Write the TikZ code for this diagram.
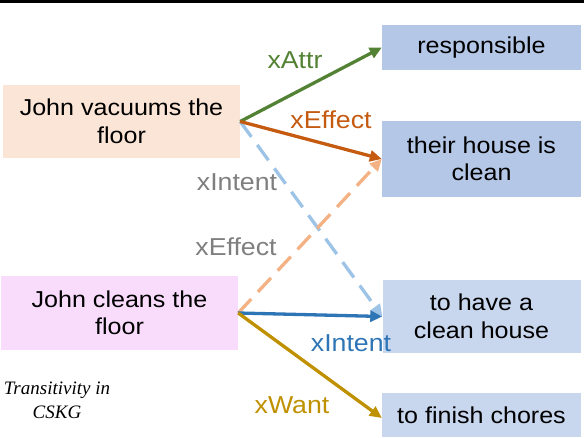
\documentclass[tikz,border=0pt]{standalone}
\usepackage{fontspec}
\setmainfont[FakeStretch=1.09]{Liberation Sans}
\newfontfamily\capfont{Liberation Serif}
\usetikzlibrary{arrows.meta}
\definecolor{cGreen}{HTML}{548235}
\definecolor{cOrange}{HTML}{C55A11}
\definecolor{cLBlue}{HTML}{9DC3E6}
\definecolor{cLOrange}{HTML}{F4B183}
\definecolor{cBlue}{HTML}{2E75B6}
\definecolor{cGold}{HTML}{BF9000}
\definecolor{cGray}{HTML}{7F7F7F}
\definecolor{cPeach}{HTML}{FBE5D6}
\definecolor{cPink}{HTML}{F9DCFC}
\definecolor{cBoxA}{HTML}{B4C7E7}
\definecolor{cBoxB}{HTML}{C8D6EE}
\tikzset{
  box/.style={rectangle, inner sep=0pt, align=center, text=black,
    font=\fontsize{23}{27.5}\selectfont},
  rel/.style={line width=3.3pt, -{Triangle[length=12pt,width=11pt]}},
  reldash/.style={rel, dash pattern=on 19pt off 10pt},
  lbl/.style={inner sep=0pt, font=\fontsize{24.5}{28}\selectfont},
}
\begin{document}
\begin{tikzpicture}[x=1pt,y=-1pt]
\useasboundingbox (0,0) rectangle (584,438);
\draw[line width=2.7pt] (0,1.3) -- (584,1.3);
% boxes
\node[box, fill=cPeach, minimum width=237pt, minimum height=73pt] (A) at (121.5,121.5) {John vacuums the\\floor};
\node[box, fill=cPink, minimum width=237pt, minimum height=74pt] (B) at (119.5,313) {John cleans the\\floor};
\node[box, fill=cBoxA, minimum width=199pt, minimum height=45pt] (R1) at (481.5,47.5) {responsible};
\node[box, fill=cBoxA, minimum width=199pt, minimum height=76pt] (R2) at (481.5,159) {their house is\\clean};
\node[box, fill=cBoxB, minimum width=198pt, minimum height=73pt] (R3) at (481.5,316.5) {to have a\\clean house};
\node[box, fill=cBoxB, minimum width=199pt, minimum height=44pt] (R4) at (481.5,415) {to finish chores};
% connectors
\draw[reldash, cLBlue] (A.east) -- (R3.west);
\draw[reldash, cLOrange] (B.east) -- (R2.west);
\draw[rel, cGreen] (A.east) -- (R1.west);
\draw[rel, cOrange] (A.east) -- (R2.west);
\draw[rel, cBlue] (B.east) -- (R3.west);
\draw[rel, cGold] (B.east) -- ([yshift=-3pt]R4.west);
% labels
\node[lbl, text=cGreen] (l1) at (295,60) {xAttr};
\node[lbl, text=cOrange] (l2) at (331,120) {xEffect};
\node[lbl, text=cGray] (l3) at (237,182) {xIntent};
\node[lbl, text=cGray] (l4) at (236,247) {xEffect};
\node[lbl, text=cBlue] (l5) at (351,343) {xIntent};
\node[lbl, text=cGold] (l6) at (292,405) {xWant};
% caption
\node[align=center, inner sep=0pt, font=\capfont\itshape\fontsize{19}{24}\selectfont] (cap) at (57,400) {Transitivity in\\CSKG};
\end{tikzpicture}
\end{document}
